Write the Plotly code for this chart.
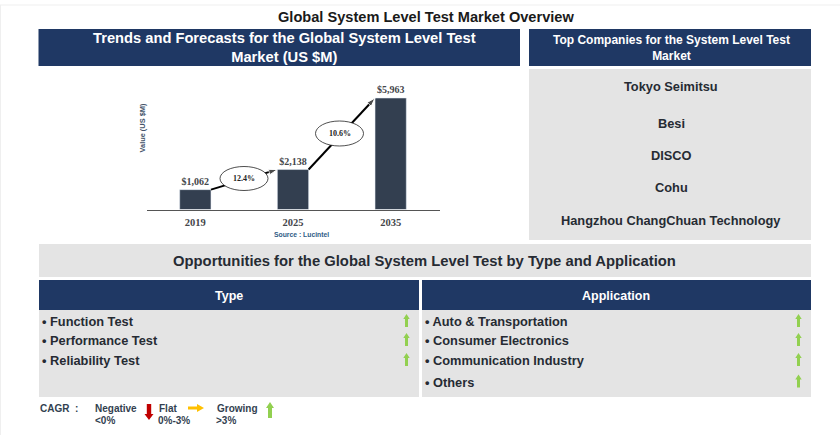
import plotly.graph_objects as go

# chart data
years = ['2019', '2025', '2035']
values = [1062, 2138, 5963]
value_labels = ['<b>$1,062</b>', '<b>$2,138</b>', '<b>$5,963</b>']
cagr_labels = ['12.4%', '10.6%']

companies = ['Tokyo Seimitsu', 'Besi', 'DISCO', 'Cohu', 'Hangzhou ChangChuan Technology']
company_y = [87, 123.5, 155, 187.5, 220]
types = ['Function Test', 'Performance Test', 'Reliability Test']
type_y = [321.5, 340.5, 360.5]
applications = ['Auto & Transportation', 'Consumer Electronics', 'Communication Industry', 'Others']
application_y = [321.5, 340.5, 360.5, 382]

W, H = 840, 435
NAVY = '#1F3864'
GREY = '#E4E4E4'
TEXT = '#262B33'
GREEN = '#92D050'
FONT = 'Liberation Sans'


def px(x):
    return x / W


def py(y):
    return 1 - y / H


def rect(x0, y0, x1, y1, color):
    return dict(type='rect', xref='paper', yref='paper', x0=px(x0), x1=px(x1), y0=py(y0), y1=py(y1),
                fillcolor=color, line_width=0, layer='below')


def label(x, y, text, size=12, color=TEXT, bold=True, anchor='center', font=FONT, angle=0):
    if bold:
        text = '<b>' + text + '</b>'
    return dict(xref='paper', yref='paper', x=px(x), y=py(y), text=text, showarrow=False, xanchor=anchor,
                yanchor='middle', align='center', textangle=angle, font=dict(size=size, color=color, family=font))


def block_arrow(cx, tip, tail, color, head=4.5, stem=1.6, head_len=6):
    # small block arrow, tip at y=tip, tail at y=tail (pixels)
    sign = 1 if tail > tip else -1
    neck = tip + sign * head_len
    pts = [(cx, tip), (cx + head, neck), (cx + stem, neck), (cx + stem, tail),
           (cx - stem, tail), (cx - stem, neck), (cx - head, neck)]
    path = 'M ' + ' L '.join(f'{px(a):.5f},{py(b):.5f}' for a, b in pts) + ' Z'
    return dict(type='path', xref='paper', yref='paper', path=path, fillcolor=color, line_width=0)


fig = go.Figure()

fig.add_trace(go.Bar(x=[0, 1, 2], y=values, width=0.32, marker_color='#333F50', text=value_labels,
                     textposition='outside', cliponaxis=False,
                     textfont=dict(family='Liberation Serif', size=10, color='#44464A')))

# arrows run from the top of one bar to the top of the next
for i in range(2):
    fig.add_trace(go.Scatter(x=[i + 0.16, i + 0.84], y=[values[i], values[i + 1]], mode='lines+markers',
                             line=dict(color='black', width=2),
                             marker=dict(symbol=['circle', 'arrow'], size=[1, 9], color='black',
                                         angleref='previous'),
                             cliponaxis=False))

shapes = [
    dict(type='line', xref='paper', yref='paper', x0=0, x1=1, y0=py(5), y1=py(5), line=dict(color='#EFEFEF', width=1), layer='below'),
    dict(type='line', xref='paper', yref='paper', x0=px(0.5), x1=px(0.5), y0=py(5), y1=0, line=dict(color='#EFEFEF', width=1), layer='below'),
    rect(38.5, 29, 520, 66, NAVY),
    rect(529, 29, 811, 66, NAVY),
    rect(529, 69, 811, 240, GREY),
    rect(39, 244, 811, 277, GREY),
    rect(39, 280, 419, 310, NAVY),
    rect(422, 280, 811, 310, NAVY),
    rect(39, 310, 419, 397, GREY),
    rect(422, 310, 811, 397, GREY),
]

# CAGR ellipses
for cx, cy, rx, ry in [(244, 178.5, 24, 12), (339.5, 133.5, 24, 12.5)]:
    shapes.append(dict(type='circle', xref='paper', yref='paper', x0=px(cx - rx), x1=px(cx + rx), y0=py(cy - ry),
                       y1=py(cy + ry), fillcolor='white', line=dict(color='#222222', width=0.8)))

for y in type_y:
    shapes.append(block_arrow(406.5, y - 7.5, y + 5.5, GREEN, head=3.2, stem=1.5, head_len=5))
for y in application_y:
    shapes.append(block_arrow(798.5, y - 7.5, y + 5.5, GREEN, head=3.2, stem=1.5, head_len=5))

# legend arrows
shapes.append(block_arrow(149, 420, 404, '#C00000', head=4.5, stem=2.2, head_len=6))
shapes.append(dict(type='path', xref='paper', yref='paper', fillcolor='#FFC000', line_width=0,
                   path='M ' + ' L '.join(f'{px(a):.5f},{py(b):.5f}' for a, b in
                                          [(204, 408), (197, 412), (197, 409.5), (188, 409.5), (188, 406.5), (197, 406.5), (197, 404)]) + ' Z'))
shapes.append(block_arrow(270, 402, 418, GREEN, head=4, stem=2, head_len=6))

annotations = [
    label(425.5, 17, 'Global System Level Test Market Overview', size=14.6, color='#1A1A1A'),
    label(284, 47.5, 'Trends and Forecasts for the Global System Level Test<br>Market (US $M)', size=14.7, color='white'),
    label(671, 47.5, 'Top Companies for the System Level Test<br>Market', size=12, color='white'),
    label(424.5, 260.5, 'Opportunities for the Global System Level Test by Type and Application', size=14.8),
    label(229, 295.5, 'Type', size=12.5, color='white'),
    label(616, 295.5, 'Application', size=12.5, color='white'),
    label(244, 178.5, cagr_labels[0], size=8, color='#222222', font='Liberation Serif'),
    label(339.5, 133.5, cagr_labels[1], size=8, color='#222222', font='Liberation Serif'),
    label(142, 128.5, 'Value (US $M)', size=7.4, color='#44546A', angle=-90),
    label(301, 234.5, 'Source : Lucintel', size=6.8, color='#2F5C85'),
    label(38, 408, 'CAGR  :', size=10, color='#333F50', anchor='left'),
    label(93, 408, 'Negative', size=10, color='#333F50', anchor='left'),
    label(93, 420.5, '&lt;0%', size=10, color='#333F50', anchor='left'),
    label(157, 408, 'Flat', size=10, color='#333F50', anchor='left'),
    label(156, 420.5, '0%-3%', size=10, color='#333F50', anchor='left'),
    label(215, 408, 'Growing', size=10, color='#333F50', anchor='left'),
    label(214, 420.5, '&gt;3%', size=10, color='#333F50', anchor='left'),
]
for name, y in zip(companies, company_y):
    annotations.append(label(671, y, name, size=12.8))
for name, y in zip(types, type_y):
    annotations.append(label(39.5, y, '• ' + name, size=12.8, anchor='left'))
for name, y in zip(applications, application_y):
    annotations.append(label(422.5, y, '• ' + name, size=12.8, anchor='left'))

fig.update_layout(
    width=W, height=H,
    margin=dict(l=0, r=0, t=0, b=0),
    paper_bgcolor='white',
    plot_bgcolor='rgba(0,0,0,0)',
    showlegend=False,
    shapes=shapes,
    annotations=annotations,
    xaxis=dict(domain=[px(146.5), px(439.5)], range=[-0.5, 2.5], tickvals=[0, 1, 2], ticktext=['<b>' + y + '</b>' for y in years],
               showgrid=False, zeroline=False, showline=True, linecolor='#555555', linewidth=1, ticks='',
               ticklabelstandoff=3,
               tickfont=dict(family='Liberation Serif', size=10.5, color='#44464A')),
    yaxis=dict(domain=[py(209.5), py(80)], range=[0, 6928], visible=False),
)

fig.write_html('out.html', config={'displayModeBar': False}, post_script="document.body.style.margin='0';")
